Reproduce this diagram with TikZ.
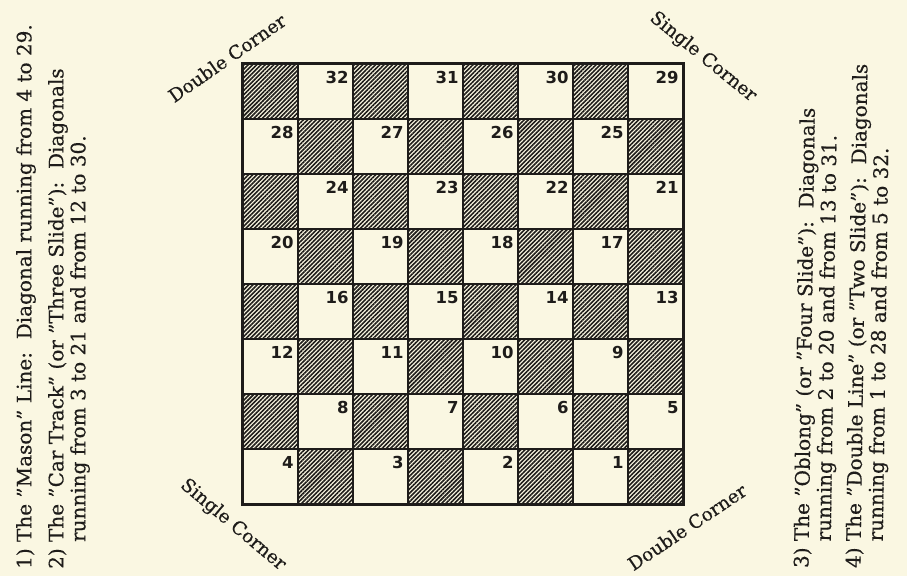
\documentclass[tikz,border=0pt]{standalone}
\usepackage{fontspec}
\setmainfont[FakeBold=0.4]{DejaVu Serif}
\newfontfamily\numfont{DejaVu Sans}
\usetikzlibrary{patterns.meta}
\definecolor{paper}{RGB}{250,247,226}
\definecolor{ink}{RGB}{30,28,26}

\begin{document}
\begin{tikzpicture}[
  x=1pt, y=-1pt,
  light/.style={draw=ink, line width=1.8pt, minimum size=55pt, inner sep=0pt},
  dark/.style={light, pattern={Lines[angle=45, distance=3pt, line width=1.6pt]}, pattern color=ink},
  num/.style={anchor=north east, inner sep=0pt, text=ink,
              font=\numfont\bfseries\fontsize{16.5}{16.5}\selectfont},
  note/.style={rotate=90, anchor=north west, inner sep=0pt, align=left, text=ink,
               font=\fontsize{20}{22}\selectfont},
  corner/.style={inner sep=0pt, text=ink, font=\fontsize{18.5}{18.5}\selectfont}
]
  \path[use as bounding box, fill=paper] (0,0) rectangle (907,576);

  % board: dark squares hatched, light squares numbered 32 .. 1
  \foreach \r in {1,...,8}{
    \foreach \c in {1,...,8}{
      \pgfmathtruncatemacro{\parity}{mod(\r+\c,2)}
      \ifodd\parity\relax
        \pgfmathtruncatemacro{\sqnum}{33-4*(\r-1)-int((\c+1)/2)}
        \node[light] (sq-\r-\c) at ({243+55*(\c-0.5)},{64+55*(\r-0.5)}) {};
        \node[num] (n\sqnum) at ([xshift=-5pt,yshift=-8pt]sq-\r-\c.north east) {\sqnum};
      \else
        \node[dark] (sq-\r-\c) at ({243+55*(\c-0.5)},{64+55*(\r-0.5)}) {};
      \fi
    }
  }
  \draw[ink, line width=3pt] (sq-1-1.north west) rectangle (sq-8-8.south east);

  % corner labels
  \node[corner, rotate=35]  (dcTL) at (227,58)  {Double Corner};
  \node[corner, rotate=-39] (scTR) at (703,57)  {Single Corner};
  \node[corner, rotate=-40] (scBL) at (233,525) {Single Corner};
  \node[corner, rotate=34]  (dcBR) at (687,527) {Double Corner};

  % notes, read from bottom to top (right ones lean a little, as scanned)
  \node[note] (note1) at (16,569)
    {1)\ The "Mason" Line:\ \ Diagonal running from 4 to 29.};
  \node[note] (note2) at (48,569)
    {2)\ The "Car Track" (or "Three Slide"):\ \ Diagonals\\
     \hphantom{2)\ }running from 3 to 21 and from 12 to 30.};
  \node[note, rotate=-0.8] (note3) at (793,568)
    {3)\ The "Oblong" (or "Four Slide"):\ \ Diagonals\\
     \hphantom{3)\ }running from 2 to 20 and from 13 to 31.};
  \node[note, rotate=-0.8] (note4) at (845,568)
    {4)\ The "Double Line" (or "Two Slide"):\ \ Diagonals\\
     \hphantom{4)\ }running from 1 to 28 and from 5 to 32.};
\end{tikzpicture}
\end{document}
